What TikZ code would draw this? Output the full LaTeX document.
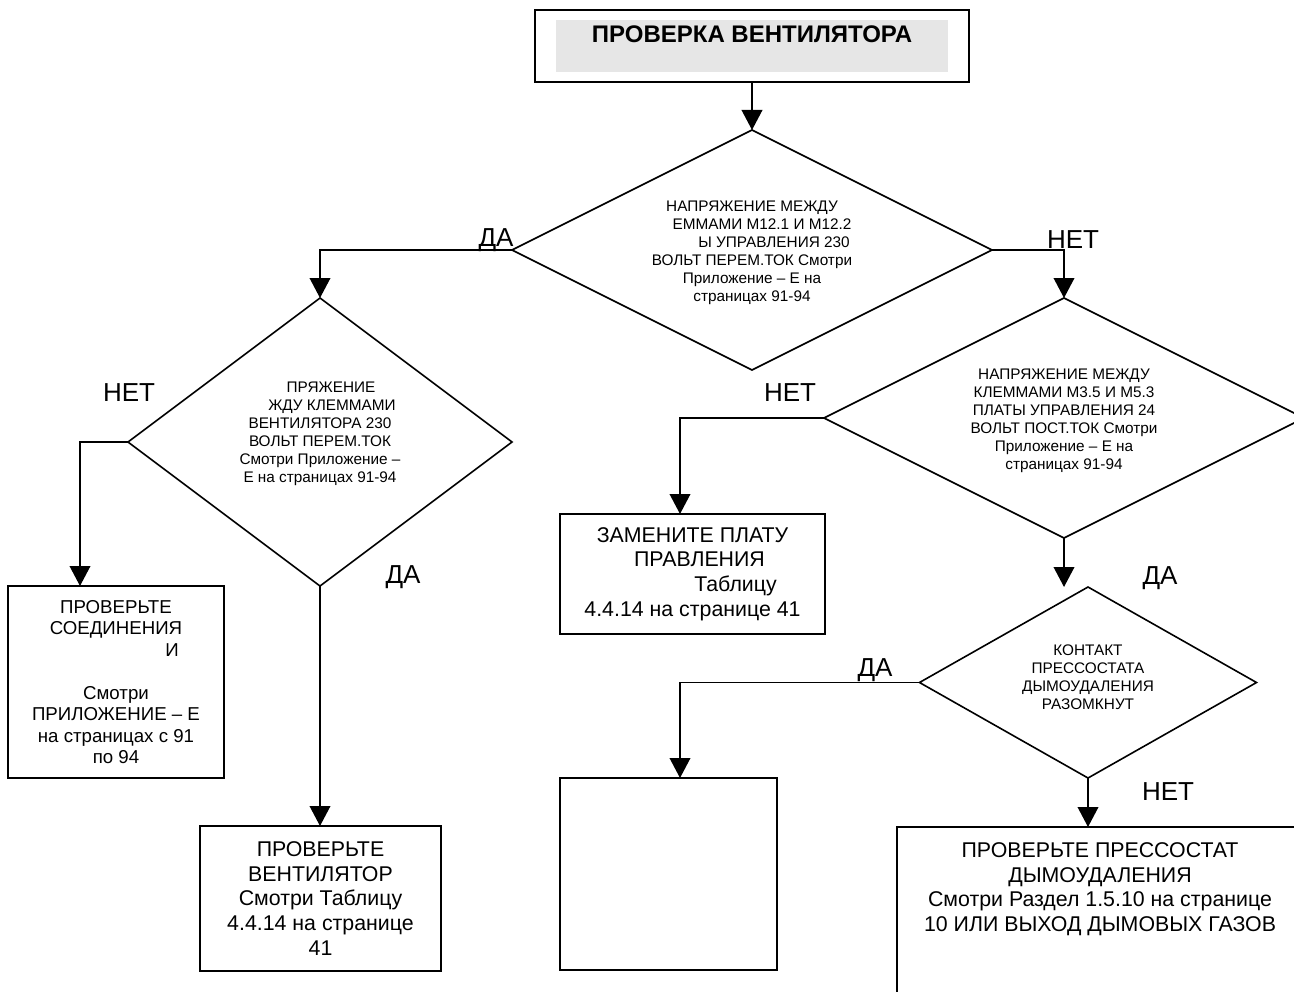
\documentclass[tikz,border=0pt]{standalone}
\usepackage{fontspec}
\setmainfont{Liberation Sans}
\usetikzlibrary{shapes.geometric,arrows.meta}
\definecolor{titlegray}{HTML}{E6E6E6}
\tikzset{
  box/.style={draw, line width=1.2pt, rectangle, inner sep=0pt, outer sep=0pt, align=center},
  dia/.style={draw, line width=1.2pt, diamond, inner sep=0pt, outer sep=0pt},
  dtext/.style={align=center, inner sep=0pt, font=\fontsize{11.5}{13.5}\selectfont},
  btext/.style={font=\fontsize{16}{18.4}\selectfont},
  lbl/.style={anchor=base, inner sep=0pt, font=\fontsize{19.5}{22}\selectfont},
  arr/.style={line width=1.2pt, -{Triangle[width=15.5pt,length=15pt]}},
}
\begin{document}
\begin{tikzpicture}[x=0.75pt,y=-0.75pt]
    \clip (0,0) rectangle (1294,991);

    % 上の箱
    \node[box, minimum width=325.5pt, minimum height=54pt] (t) at (752,46) {};
    \fill[titlegray] (556,20) rectangle (948,72);
    \node[anchor=base, inner sep=0pt, font=\fontsize{18}{20}\selectfont\bfseries] (ttl) at (752,43) {ПРОВЕРКА ВЕНТИЛЯТОРА};

    % 菱形
    \node[dia, minimum width=360pt, minimum height=180pt] (d1) at (752,250) {};
    \node[dia, minimum width=288pt, minimum height=216pt] (d2) at (320,442) {};
    \node[dia, minimum width=360pt, minimum height=180pt] (d3) at (1064,418) {};
    \node[dia, minimum width=252.75pt, minimum height=143.25pt] (d4) at (1088,682.5) {};

    \node[dtext] (d1t) at (752,253) {НАПРЯЖЕНИЕ МЕЖДУ\\ \hspace*{15pt}ЕММАМИ М12.1 И М12.2\\ \hspace*{33pt}Ы УПРАВЛЕНИЯ 230\\ ВОЛЬТ ПЕРЕМ.ТОК Смотри\\ Приложение – Е на\\ страницах 91-94};
    \node[dtext] (d2t) at (320,433.5) {\hspace*{16.5pt}ПРЯЖЕНИЕ\\ \hspace*{18pt}ЖДУ КЛЕММАМИ\\ ВЕНТИЛЯТОРА 230\\ ВОЛЬТ ПЕРЕМ.ТОК\\ Смотри Приложение –\\ Е на страницах 91-94};
    \node[dtext] (d3t) at (1064,421) {НАПРЯЖЕНИЕ МЕЖДУ\\ КЛЕММАМИ М3.5 И М5.3\\ ПЛАТЫ УПРАВЛЕНИЯ 24\\ ВОЛЬТ ПОСТ.ТОК Смотри\\ Приложение – Е на\\ страницах 91-94};
    \node[dtext] (d4t) at (1088,677.5) {КОНТАКТ\\ ПРЕССОСТАТА\\ ДЫМОУДАЛЕНИЯ\\ РАЗОМКНУТ};

    % 箱
    \node[box, minimum width=162pt, minimum height=144pt, font=\fontsize{14}{16.1}\selectfont] (b1) at (116,682)
      {ПРОВЕРЬТЕ\\ СОЕДИНЕНИЯ\\ \hspace*{84pt}И\\[16.1pt] Смотри\\ ПРИЛОЖЕНИЕ – Е\\ на страницах с 91\\ по 94};
    \node[box, btext, minimum width=180.75pt, minimum height=108.75pt] (b2) at (320.5,898.5)
      {ПРОВЕРЬТЕ\\ ВЕНТИЛЯТОР\\ Смотри Таблицу\\ 4.4.14 на странице\\ 41};
    \node[box, btext, minimum width=198.75pt, minimum height=90pt] (b3) at (692.5,574)
      {ЗАМЕНИТЕ ПЛАТУ\\ \hspace*{10.5pt}ПРАВЛЕНИЯ\\ \hspace*{64.5pt}Таблицу\\ 4.4.14 на странице 41};
    \node[box, minimum width=162.75pt, minimum height=144pt] (b4) at (668.5,874) {};
    \node[box, anchor=north west, minimum width=304.5pt, minimum height=225pt] (b5) at (897,827) {};
    \node[btext, align=center, inner sep=0pt] (b5t) at (1100,889)
      {ПРОВЕРЬТЕ ПРЕССОСТАТ\\ ДЫМОУДАЛЕНИЯ\\ Смотри Раздел 1.5.10 на странице\\ 10 ИЛИ ВЫХОД ДЫМОВЫХ ГАЗОВ};

    % 矢印
    \coordinate (xa) at (80,0);
    \coordinate (xb) at (680,0);
    \draw[arr] (t.south) -- (d1.north);
    \draw[arr] (d1.west) -| (d2.north);
    \draw[arr] (d1.east) -| (d3.north);
    \draw[arr] (d2.west) -| (xa |- b1.north);
    \draw[arr] (d2.south) -- (d2.south |- b2.north);
    \draw[arr] (d3.west) -| (xb |- b3.north);
    \draw[arr] (d3.south) -- (d3.south |- d4.north);
    \draw[arr] (d4.west) -| (xb |- b4.north);
    \draw[arr] (d4.south) -- (d4.south |- b5.north);

    % ДА / НЕТ
    \node[lbl] (yes1) at (496,247) {ДА};
    \node[lbl] (no1) at (1073,248) {НЕТ};
    \node[lbl] (no2) at (129,401) {НЕТ};
    \node[lbl] (yes2) at (403,583) {ДА};
    \node[lbl] (no3) at (790,401) {НЕТ};
    \node[lbl] (yes3) at (1160,584) {ДА};
    \node[lbl] (yes4) at (875,676) {ДА};
    \node[lbl] (no4) at (1168,800) {НЕТ};
\end{tikzpicture}
\end{document}
